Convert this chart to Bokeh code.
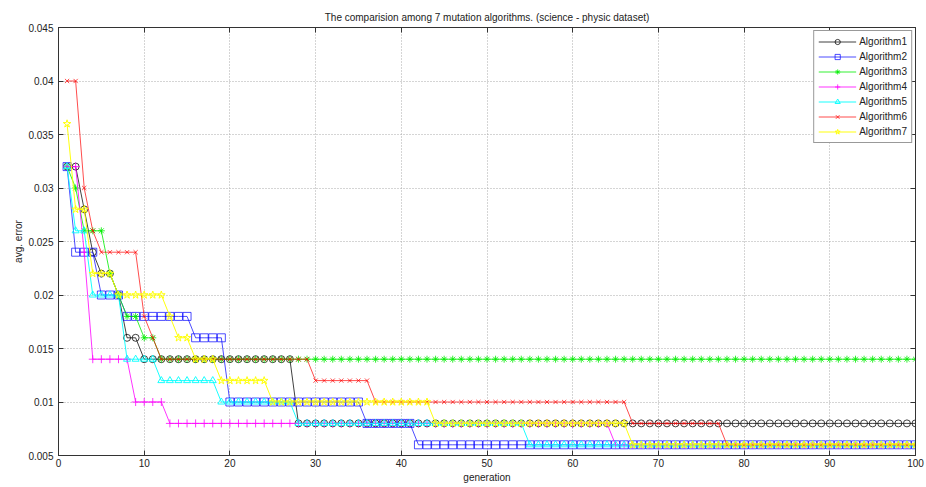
from bokeh.plotting import figure
from bokeh.models import LinearAxis, FixedTicker, CustomJSTickFormatter, Range1d
from bokeh.embed import file_html
from bokeh.resources import INLINE

# ---------------- data ----------------
generation = list(range(1, 101))

algorithm1 = ([0.032] * 2 + [0.028] + [0.024] + [0.022] * 2 + [0.020] + [0.016] * 2
              + [0.014] * 18 + [0.008] * 73)
algorithm2 = ([0.032] + [0.024] * 3 + [0.020] * 3 + [0.018] * 8 + [0.016] * 4
              + [0.010] * 16 + [0.008] * 6 + [0.006] * 59)
algorithm3 = ([0.032] + [0.030] + [0.026] * 3 + [0.022] + [0.020] + [0.018] * 2
              + [0.016] * 2 + [0.014] * 89)
algorithm4 = ([0.032] * 2 + [0.024] + [0.014] * 5 + [0.010] * 4 + [0.008] * 52
              + [0.006] * 36)
algorithm5 = ([0.032] + [0.026] * 2 + [0.020] * 4 + [0.014] * 4 + [0.012] * 7
              + [0.010] * 9 + [0.008] * 27 + [0.006] * 46)
algorithm6 = ([0.040] * 2 + [0.030] + [0.026] + [0.024] * 5 + [0.018] + [0.016]
              + [0.014] * 18 + [0.012] * 7 + [0.010] * 30 + [0.008] * 11 + [0.006] * 23)
algorithm7 = ([0.036] + [0.028] * 2 + [0.022] * 3 + [0.020] * 6 + [0.018] + [0.016] * 2
              + [0.014] * 3 + [0.012] * 6 + [0.010] * 19 + [0.008] * 23 + [0.006] * 34)

series_names = ["Algorithm1", "Algorithm2", "Algorithm3", "Algorithm4",
                "Algorithm5", "Algorithm6", "Algorithm7"]
x_ticks = [0, 10, 20, 30, 40, 50, 60, 70, 80, 90, 100]
y_ticks = [0.005, 0.01, 0.015, 0.02, 0.025, 0.03, 0.035, 0.04, 0.045]

title_text = "The comparision among 7 mutation algorithms. (science - physic dataset)"
x_label = "generation"
y_label = "avg. error"

# ---------------- styling ----------------
FONT = "Liberation Sans"
styles = [
    ("#000000", "circle", 0.75),
    ("#0000ff", "square", 0.7),
    ("#00ee00", "asterisk", 0.8),
    ("#ff00ff", "cross", 0.8),
    ("#00ffff", "triangle", 0.9),
    ("#ff0000", "x", 0.7),
    ("#ffff00", "star", 0.95),
]
marker_sizes = [7, 8, 7, 8, 7, 6, 8]

p = figure(width=926, height=487, output_backend="svg", toolbar_location=None,
           x_range=Range1d(0, 100), y_range=Range1d(0.005, 0.045),
           min_border_left=58, min_border_right=11, min_border_top=27,
           min_border_bottom=32, title=title_text, background_fill_color="white",
           border_fill_color="white")

p.title.text_font = FONT
p.title.text_font_size = "10px"
p.title.text_font_style = "normal"
p.title.align = "center"
p.title.text_color = "#222222"

fmt = CustomJSTickFormatter(code="return String(parseFloat(tick.toFixed(3)));")
blank = CustomJSTickFormatter(code="return '';")

for ax in (p.xaxis[0], p.yaxis[0]):
    ax.major_tick_in = 5
    ax.major_tick_out = 0
    ax.minor_tick_line_color = None
    ax.major_label_text_font = FONT
    ax.major_label_text_font_size = "10px"
    ax.major_label_text_color = "#222222"
    ax.axis_label_text_font = FONT
    ax.axis_label_text_font_size = "10px"
    ax.axis_label_text_font_style = "normal"
    ax.axis_label_text_color = "#222222"
    ax.axis_line_color = "#333333"
    ax.major_tick_line_color = "#333333"

p.xaxis.ticker = FixedTicker(ticks=x_ticks)
p.yaxis.ticker = FixedTicker(ticks=y_ticks)
p.yaxis.formatter = fmt
p.xaxis.axis_label = x_label
p.yaxis.axis_label = y_label
p.xaxis.major_label_standoff = 3
p.xaxis.axis_label_standoff = 2
p.yaxis.major_label_standoff = 5
p.yaxis.axis_label_standoff = 1

for loc, tick in (("right", y_ticks), ("above", x_ticks)):
    ax = LinearAxis(ticker=FixedTicker(ticks=tick), major_tick_in=5, major_tick_out=0,
                    minor_tick_line_color=None, formatter=blank,
                    major_label_standoff=0, axis_line_color="#333333",
                    major_tick_line_color="#333333")
    p.add_layout(ax, loc)

p.xgrid.ticker = FixedTicker(ticks=x_ticks)
p.ygrid.ticker = FixedTicker(ticks=y_ticks)
for g in (p.xgrid, p.ygrid):
    g.grid_line_color = "#aaaaaa"
    g.grid_line_dash = "1 2"
    g.grid_line_width = 1

p.outline_line_color = "#333333"

all_series = [algorithm1, algorithm2, algorithm3, algorithm4,
              algorithm5, algorithm6, algorithm7]
for name, ys, (color, marker, alpha), ms in zip(series_names, all_series, styles, marker_sizes):
    p.line(generation, ys, line_color=color, line_width=1, line_alpha=alpha, legend_label=name)
    p.scatter(generation, ys, marker=marker, size=ms, line_color=color, line_alpha=alpha,
              fill_color=None, line_width=1, legend_label=name)

lg = p.legend[0]
lg.location = "top_right"
lg.margin = 3
lg.padding = 4
lg.spacing = 2
lg.label_height = 13
lg.glyph_height = 13
lg.glyph_width = 38
lg.label_standoff = 3
lg.label_text_font = FONT
lg.label_text_font_size = "10px"
lg.label_text_color = "#222222"
lg.border_line_color = "#333333"
lg.border_line_width = 1
lg.background_fill_alpha = 1.0

open("out.html", "w").write(file_html(p, INLINE))
